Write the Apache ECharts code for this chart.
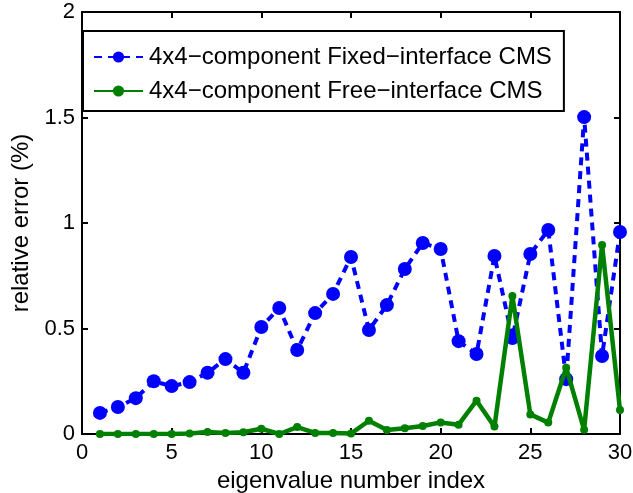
<!DOCTYPE html>
<html>
<head>
<meta charset="utf-8">
<script src="https://cdn.jsdelivr.net/npm/echarts@6/dist/echarts.min.js"></script>
<style>
  html, body { margin: 0; padding: 0; background: #fff; }
  #chart { width: 633px; height: 493px; }
</style>
</head>
<body>
<div id="chart"></div>
<script>
// Eigenvalue indices 1..30
const eigIndex = [1,2,3,4,5,6,7,8,9,10,11,12,13,14,15,16,17,18,19,20,21,22,23,24,25,26,27,28,29,30];

// Relative error (%) of the fixed-interface CMS reduction
const fixedErr = [0.10,0.128,0.17,0.25,0.227,0.246,0.29,0.355,0.29,0.507,
                  0.597,0.398,0.573,0.664,0.839,0.493,0.611,0.782,0.905,0.877,
                  0.44,0.379,0.844,0.455,0.853,0.967,0.26,1.502,0.37,0.957];

// Relative error (%) of the free-interface CMS reduction
const freeErr = [0.0,0.0,0.0,0.0,0.0,0.002,0.01,0.005,0.008,0.025,
                 0.0,0.033,0.005,0.005,0.002,0.063,0.019,0.027,0.038,0.055,
                 0.044,0.158,0.035,0.654,0.093,0.054,0.314,0.02,0.896,0.114];

const seriesNames = ['4x4\u2212component Fixed\u2212interface CMS',
                     '4x4\u2212component Free\u2212interface CMS'];

const xTicks = { min: 0, max: 30, interval: 5 };
const yTicks = { min: 0, max: 2, interval: 0.5 };

const FONT = '"Liberation Sans", Arial, sans-serif';
const BLUE = '#0000ff';
const GREEN = '#008000';

const chart = echarts.init(document.getElementById('chart'), null, { renderer: 'canvas' });

const axisLine = { show: true, onZero: false, lineStyle: { color: '#000', width: 2 } };
const tickIn = { show: true, inside: true, length: 6, lineStyle: { color: '#000', width: 2 } };

chart.setOption({
  animation: false,
  backgroundColor: '#fff',
  grid: { left: 82, right: 13, top: 12, bottom: 59, containLabel: false, outerBoundsMode: 'none' },
  legend: {
    left: 83, top: 31,
    orient: 'vertical',
    backgroundColor: '#fff',
    borderColor: '#000', borderWidth: 2, borderRadius: 0,
    padding: [14, 12, 8, 10],
    itemGap: 10,
    itemWidth: 49, itemHeight: 14,
    textStyle: { fontFamily: FONT, fontSize: 24, color: '#000', padding: [0, 0, 0, 1] },
    data: seriesNames
  },
  xAxis: [{
    type: 'value', position: 'bottom', ...xTicks,
    axisLine, axisTick: tickIn, splitLine: { show: false },
    axisLabel: { color: '#000', fontFamily: FONT, fontSize: 22, margin: 8 },
    name: 'eigenvalue number index', nameLocation: 'middle', nameGap: 32,
    nameTextStyle: { color: '#000', fontFamily: FONT, fontSize: 24 }
  }, {
    type: 'value', position: 'top', ...xTicks,
    axisLine, axisTick: tickIn, splitLine: { show: false },
    axisLabel: { show: false }
  }],
  yAxis: [{
    type: 'value', position: 'left', ...yTicks,
    axisLine, axisTick: tickIn, splitLine: { show: false },
    axisLabel: { color: '#000', fontFamily: FONT, fontSize: 22, margin: 7 },
    name: 'relative error (%)', nameLocation: 'middle', nameGap: 48,
    nameTextStyle: { color: '#000', fontFamily: FONT, fontSize: 24 }
  }, {
    type: 'value', position: 'right', ...yTicks,
    axisLine, axisTick: tickIn, splitLine: { show: false },
    axisLabel: { show: false }
  }],
  series: [{
    name: seriesNames[0],
    type: 'line',
    data: eigIndex.map((x, i) => [x, fixedErr[i]]),
    symbol: 'circle', symbolSize: 14,
    itemStyle: { color: BLUE },
    lineStyle: { color: BLUE, width: 4, type: [8, 6] },
    z: 2
  }, {
    name: seriesNames[1],
    type: 'line',
    data: eigIndex.map((x, i) => [x, freeErr[i]]),
    symbol: 'circle', symbolSize: 8,
    itemStyle: { color: GREEN },
    lineStyle: { color: GREEN, width: 4.5 },
    z: 3
  }]
});
</script>
</body>
</html>
